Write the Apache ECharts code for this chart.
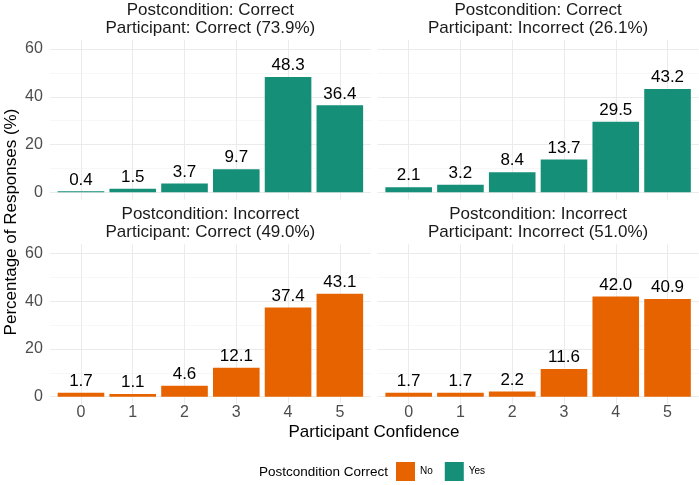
<!DOCTYPE html>
<html>
<head>
  <meta charset="UTF-8">
  <title>Participant confidence facets</title>
  <script src="https://cdn.jsdelivr.net/npm/echarts@6/dist/echarts.min.js"></script>
  <style>
  html, body { margin: 0; padding: 0; background: #fff; }
  #chart { width: 699px; height: 485px; }
  </style>
</head>
<body>
  <div id="chart"></div>
<script>
// data
var confidence = ['0', '1', '2', '3', '4', '5'];
var postCorrectPartCorrect = [0.4, 1.5, 3.7, 9.7, 48.3, 36.4];
var postCorrectPartIncorrect = [2.1, 3.2, 8.4, 13.7, 29.5, 43.2];
var postIncorrectPartCorrect = [1.7, 1.1, 4.6, 12.1, 37.4, 43.1];
var postIncorrectPartIncorrect = [1.7, 1.7, 2.2, 11.6, 42.0, 40.9];
var panelTitles = [
  'Postcondition: Correct\nParticipant: Correct (73.9%)',
  'Postcondition: Correct\nParticipant: Incorrect (26.1%)',
  'Postcondition: Incorrect\nParticipant: Correct (49.0%)',
  'Postcondition: Incorrect\nParticipant: Incorrect (51.0%)'
];
var legendNames = ['No', 'Yes'];

var panelValues = [postCorrectPartCorrect, postCorrectPartIncorrect, postIncorrectPartCorrect, postIncorrectPartIncorrect];
var panelGroup = ['Yes', 'Yes', 'No', 'No'];

// layout (ggplot-like facets)
var FONT = 'Liberation Sans';
var colors = { No: '#E66300', Yes: '#158F77' };
var colLeft = [49.9, 377.6];
var panelWidth = 321;
var rowZero = [192.3, 396.7];
var ppu = 143.3 / 60;
var yMaxVal = 63.8, yMinVal = -3.04;

var grids = [], xAxes = [], yAxes = [], series = [], titles = [];

for (var p = 0; p < 4; p++) {
  var row = Math.floor(p / 2), col = p % 2;
  var band = panelWidth / 6.2;
  var zero = rowZero[row];

  // background grid: horizontal gridlines over the whole panel width
  grids.push({
    left: colLeft[col], width: panelWidth,
    top: zero - 60 * ppu, height: 60 * ppu
  });
  xAxes.push({ gridIndex: grids.length - 1, type: 'value', min: 0, max: 1, show: false });
  yAxes.push({
    gridIndex: grids.length - 1, type: 'value', min: 0, max: 60, interval: 20,
    axisLine: { show: false }, axisTick: { show: false },
    axisLabel: { show: col === 0, color: '#4D4D4D', fontSize: 16, fontFamily: FONT, margin: 7 },
    splitLine: { show: true, lineStyle: { color: '#EBEBEB', width: 1 } },
    minorTick: { show: false, splitNumber: 2 },
    minorSplitLine: { show: true, lineStyle: { color: '#F2F2F2', width: 0.6 } }
  });

  // bar grid
  grids.push({
    left: colLeft[col] + 0.1 * band, width: 6 * band,
    top: zero - yMaxVal * ppu, height: (yMaxVal - yMinVal) * ppu
  });
  var gi = grids.length - 1;
  xAxes.push({
    gridIndex: gi, type: 'category', data: confidence,
    axisLine: { show: false }, axisTick: { show: false },
    axisLabel: { show: row === 1, color: '#4D4D4D', fontSize: 16, fontFamily: FONT, margin: 1 },
    splitLine: { show: false }
  });
  yAxes.push({ gridIndex: gi, type: 'value', min: yMinVal, max: yMaxVal, show: false, splitLine: { show: false } });

  series.push({
    name: panelGroup[p],
    type: 'bar',
    xAxisIndex: gi, yAxisIndex: gi,
    data: panelValues[p],
    barCategoryGap: '10%',
    itemStyle: { color: colors[panelGroup[p]] },
    label: {
      show: true, position: 'top', distance: 3,
      color: '#000', fontSize: 17, fontFamily: FONT,
      formatter: function (d) { return d.value.toFixed(1); }
    },
    markLine: {
      silent: true, symbol: 'none', z: 1,
      label: { show: false },
      lineStyle: { color: '#EBEBEB', width: 1, type: 'solid' },
      emphasis: { disabled: true },
      animation: false,
      data: confidence.map(function (c, i) { return { xAxis: i }; })
    }
  });

  titles.push({
    text: panelTitles[p],
    left: colLeft[col] + panelWidth / 2,
    textAlign: 'center',
    top: zero - 191,
    padding: 0,
    textStyle: { color: '#1A1A1A', fontSize: 17, fontWeight: 'normal', fontFamily: FONT, lineHeight: 18 }
  });
}

var chart = echarts.init(document.getElementById('chart'));
chart.setOption({
  animation: false,
  backgroundColor: '#fff',
  title: titles,
  grid: grids,
  xAxis: xAxes,
  yAxis: yAxes,
  series: series,
  legend: {
    data: legendNames,
    left: 396, top: 462, padding: 0,
    itemWidth: 19, itemHeight: 19, itemGap: 12,
    icon: 'rect',
    textStyle: { color: '#000', fontSize: 10, fontFamily: FONT }
  },
  graphic: [
    {
      type: 'text', x: 374, y: 432,
      style: { text: 'Participant Confidence', font: '17px "Liberation Sans"', textAlign: 'center', textVerticalAlign: 'middle', fill: '#000' }
    },
    {
      type: 'text', x: 11, y: 222, rotation: Math.PI / 2,
      style: { text: 'Percentage of Responses (%)', font: '17px "Liberation Sans"', textAlign: 'center', textVerticalAlign: 'middle', fill: '#000' }
    },
    {
      type: 'text', x: 259, y: 472,
      style: { text: 'Postcondition Correct', font: '13.5px "Liberation Sans"', textAlign: 'left', textVerticalAlign: 'middle', fill: '#000' }
    }
  ]
});
</script>
</body>
</html>
